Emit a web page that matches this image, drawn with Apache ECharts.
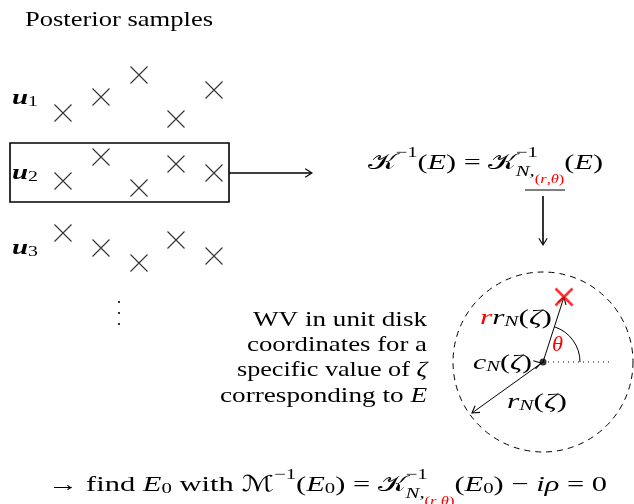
<!DOCTYPE html>
<html>
<head>
<meta charset="UTF-8">
<title>Posterior samples</title>
<script src="https://cdn.jsdelivr.net/npm/echarts@6/dist/echarts.min.js"></script>
<style>html,body{margin:0;padding:0;background:#fff}#chart{width:634px;height:504px}</style>
</head>
<body>
<div id="chart"></div>
<script>
// sample crosses, one row per posterior sample u_i
var sampleX = [63, 101, 139, 176, 214];
var row1Y = [113, 97, 75, 119, 90];
var row2Y = [181, 157, 188, 164, 173];
var row3Y = [233, 248, 263, 240, 256];
var rowLabels = ['1', '2', '3'];
var rowLabelY = [98, 173, 248];
// unit disk: centre and the WV point
var diskCentre = [[543, 362]];
var wvPoint = [[564, 297]];
var rimPoint = [472, 413];

var SERIF = '"Liberation Serif","DejaVu Serif","DejaVu Sans",serif';
var FS = 22, SUB = 15, SUB2 = 12;
var ctx = document.createElement('canvas').getContext('2d');
function fontOf(p) { return (p.it ? 'italic ' : '') + (p.b ? 'bold ' : '') + (p.s || FS) + 'px ' + SERIF; }
// lay out a row of text pieces (sup/sub via dy); o.w = width to fit, o.right = right aligned
function run(x, y, pieces, o) {
	o = o || {};
	var xs = [], cx = 0;
	pieces.forEach(function(p) {
		ctx.font = fontOf(p);
		p.w = ctx.measureText(p.t).width;
		xs.push(cx);
		if (!p.hold) cx += p.w;
	});
	var k = o.w ? o.w / cx : 1.15;
	if (o.right) x -= cx * k;
	return pieces.map(function(p, i) {
		return {type: 'text', x: x + xs[i] * k, y: y + (p.dy || 0), scaleX: k, silent: true,
			style: {text: p.t, font: fontOf(p), fill: p.c || '#000', verticalAlign: 'middle'}};
	});
}
function arrowHead(tip, from, col) {
	var a = Math.atan2(tip[1] - from[1], tip[0] - from[0]), L = 8, s = 0.55;
	return {type: 'polyline', silent: true, shape: {points: [
		[tip[0] - L * Math.cos(a - s), tip[1] - L * Math.sin(a - s)], tip,
		[tip[0] - L * Math.cos(a + s), tip[1] - L * Math.sin(a + s)]]},
		style: {stroke: col || '#000', lineWidth: 1.1, fill: 'none'}};
}
function line(a, b, w, dash) {
	return {type: 'line', silent: true, shape: {x1: a[0], y1: a[1], x2: b[0], y2: b[1]},
		style: {stroke: '#000', lineWidth: w || 1, lineDash: dash || null}};
}

var red = '#f00';
var samples = [];
[row1Y, row2Y, row3Y].forEach(function(r) {
	r.forEach(function(y, i) { samples.push([sampleX[i], y]); });
});

var g = [];
g = g.concat(run(25, 20, [{t: 'Posterior samples'}], {w: 188}));
rowLabels.forEach(function(l, i) {
	g = g.concat(run(12, rowLabelY[i], [{t: 'u', it: 1, b: 1}, {t: l, s: SUB, dy: 4}], {w: 26}));
});
g.push({type: 'rect', silent: true, shape: {x: 10, y: 143, width: 219, height: 59}, style: {stroke: '#000', lineWidth: 1.6, fill: 'none'}});
g.push(line([229, 173], [311, 173], 1.6));
g.push(arrowHead([312, 173], [229, 173]));

// K^-1(E) = K^-1_{N,(r,theta)}(E)
function subRT() {
	return [{t: '(', c: red}, {t: 'r', it: 1, c: red}, {t: ',', c: red}, {t: 'θ', it: 1, c: red}, {t: ')', c: red}]
		.map(function(p) { p.s = SUB2; p.dy = 17; return p; });
}
g = g.concat(run(368, 163, [{t: '𝒦'}, {t: '−1', s: SUB, dy: -10}, {t: '('}, {t: 'E', it: 1}, {t: ') = '},
	{t: '𝒦'}, {t: '−1', s: SUB, dy: -10, hold: 1}, {t: 'N', it: 1, s: SUB, dy: 9}, {t: ',', s: SUB, dy: 9}]
	.concat(subRT()).concat([{t: '('}, {t: 'E', it: 1}, {t: ')'}]), {w: 235}));
g.push(line([525, 190], [565, 190], 1));
g.push(line([543, 196], [543, 244], 1.6));
g.push(arrowHead([543, 245], [543, 196]));

// dots
[302, 313, 324].forEach(function(y) {
	g.push({type: 'circle', silent: true, shape: {cx: 119, cy: y, r: 1.1}, style: {fill: '#000'}});
});

// left explanation, right aligned
g = g.concat(run(427, 320, [{t: 'WV in unit disk'}], {right: 1, w: 174}));
g = g.concat(run(427, 345, [{t: 'coordinates for a'}], {right: 1, w: 180}));
g = g.concat(run(427, 370, [{t: 'specific value of '}, {t: 'ζ', it: 1}], {right: 1, w: 190}));
g = g.concat(run(427, 396, [{t: 'corresponding to '}, {t: 'E', it: 1}], {right: 1, w: 207}));

// disk
var c = diskCentre[0], p = wvPoint[0];
g.push({type: 'circle', silent: true, shape: {cx: c[0], cy: c[1], r: 90}, style: {stroke: '#000', lineWidth: 1, fill: 'none', lineDash: [6, 5]}});
g.push(line(c, [612, c[1]], 1, [1, 4]));
g.push(line(c, p, 1));
g.push(arrowHead(p, c));
g.push(line(c, rimPoint, 1));
g.push(arrowHead(rimPoint, c));
g.push(arrowHead([c[0] - 2, c[1] + 1], [c[0] - 20, c[1] + 6]));
var ang = Math.atan2(p[1] - c[1], p[0] - c[0]);
g.push({type: 'arc', silent: true, shape: {cx: c[0], cy: c[1], r: 37, startAngle: ang, endAngle: 0, clockwise: true}, style: {stroke: '#000', lineWidth: 1, fill: 'none'}});
g = g.concat(run(480, 318, [{t: 'r', it: 1, c: red}, {t: 'r', it: 1}, {t: 'N', it: 1, s: SUB, dy: 4}, {t: '('}, {t: 'ζ', it: 1}, {t: ')'}], {w: 72}));
g = g.concat(run(552, 345, [{t: 'θ', it: 1, c: red}], {w: 11}));
g = g.concat(run(473, 363, [{t: 'c', it: 1}, {t: 'N', it: 1, s: SUB, dy: 4}, {t: '('}, {t: 'ζ', it: 1}, {t: ')'}], {w: 59}));
g = g.concat(run(507, 402, [{t: 'r', it: 1}, {t: 'N', it: 1, s: SUB, dy: 4}, {t: '('}, {t: 'ζ', it: 1}, {t: ')'}], {w: 60}));

// bottom line
g = g.concat(run(48, 485, [{t: '→ find '}, {t: 'E', it: 1}, {t: '0', s: SUB, dy: 4}, {t: ' with '}, {t: 'ℳ'},
	{t: '−1', s: SUB, dy: -10}, {t: '('}, {t: 'E', it: 1}, {t: '0', s: SUB, dy: 4}, {t: ') = '},
	{t: '𝒦'}, {t: '−1', s: SUB, dy: -10, hold: 1}, {t: 'N', it: 1, s: SUB, dy: 9}, {t: ',', s: SUB, dy: 9}]
	.concat(subRT()).concat([{t: '('}, {t: 'E', it: 1}, {t: '0', s: SUB, dy: 4}, {t: ') − '}, {t: 'iρ', it: 1}, {t: ' = 0'}]), {w: 559}));

var chart = echarts.init(document.getElementById('chart'));
chart.setOption({
	animation: false,
	grid: {left: 0, right: 0, top: 0, bottom: 0},
	xAxis: {type: 'value', min: 0, max: 634, show: false},
	yAxis: {type: 'value', min: 0, max: 504, inverse: true, show: false},
	series: [
		{name: 'samples', type: 'scatter', data: samples, symbol: 'path://M0,0L10,10M10,0L0,10', symbolSize: 17,
			itemStyle: {color: 'none', borderColor: '#000', borderWidth: 1.1}, silent: true},
		{name: 'wv', type: 'scatter', data: wvPoint, symbol: 'path://M0,0L10,10M10,0L0,10', symbolSize: 17,
			itemStyle: {color: 'none', borderColor: red, borderWidth: 2.6}, silent: true, z: 5},
		{name: 'centre', type: 'scatter', data: diskCentre, symbol: 'circle', symbolSize: 7,
			itemStyle: {color: '#000'}, silent: true}
	],
	graphic: g
});
</script>
</body>
</html>
